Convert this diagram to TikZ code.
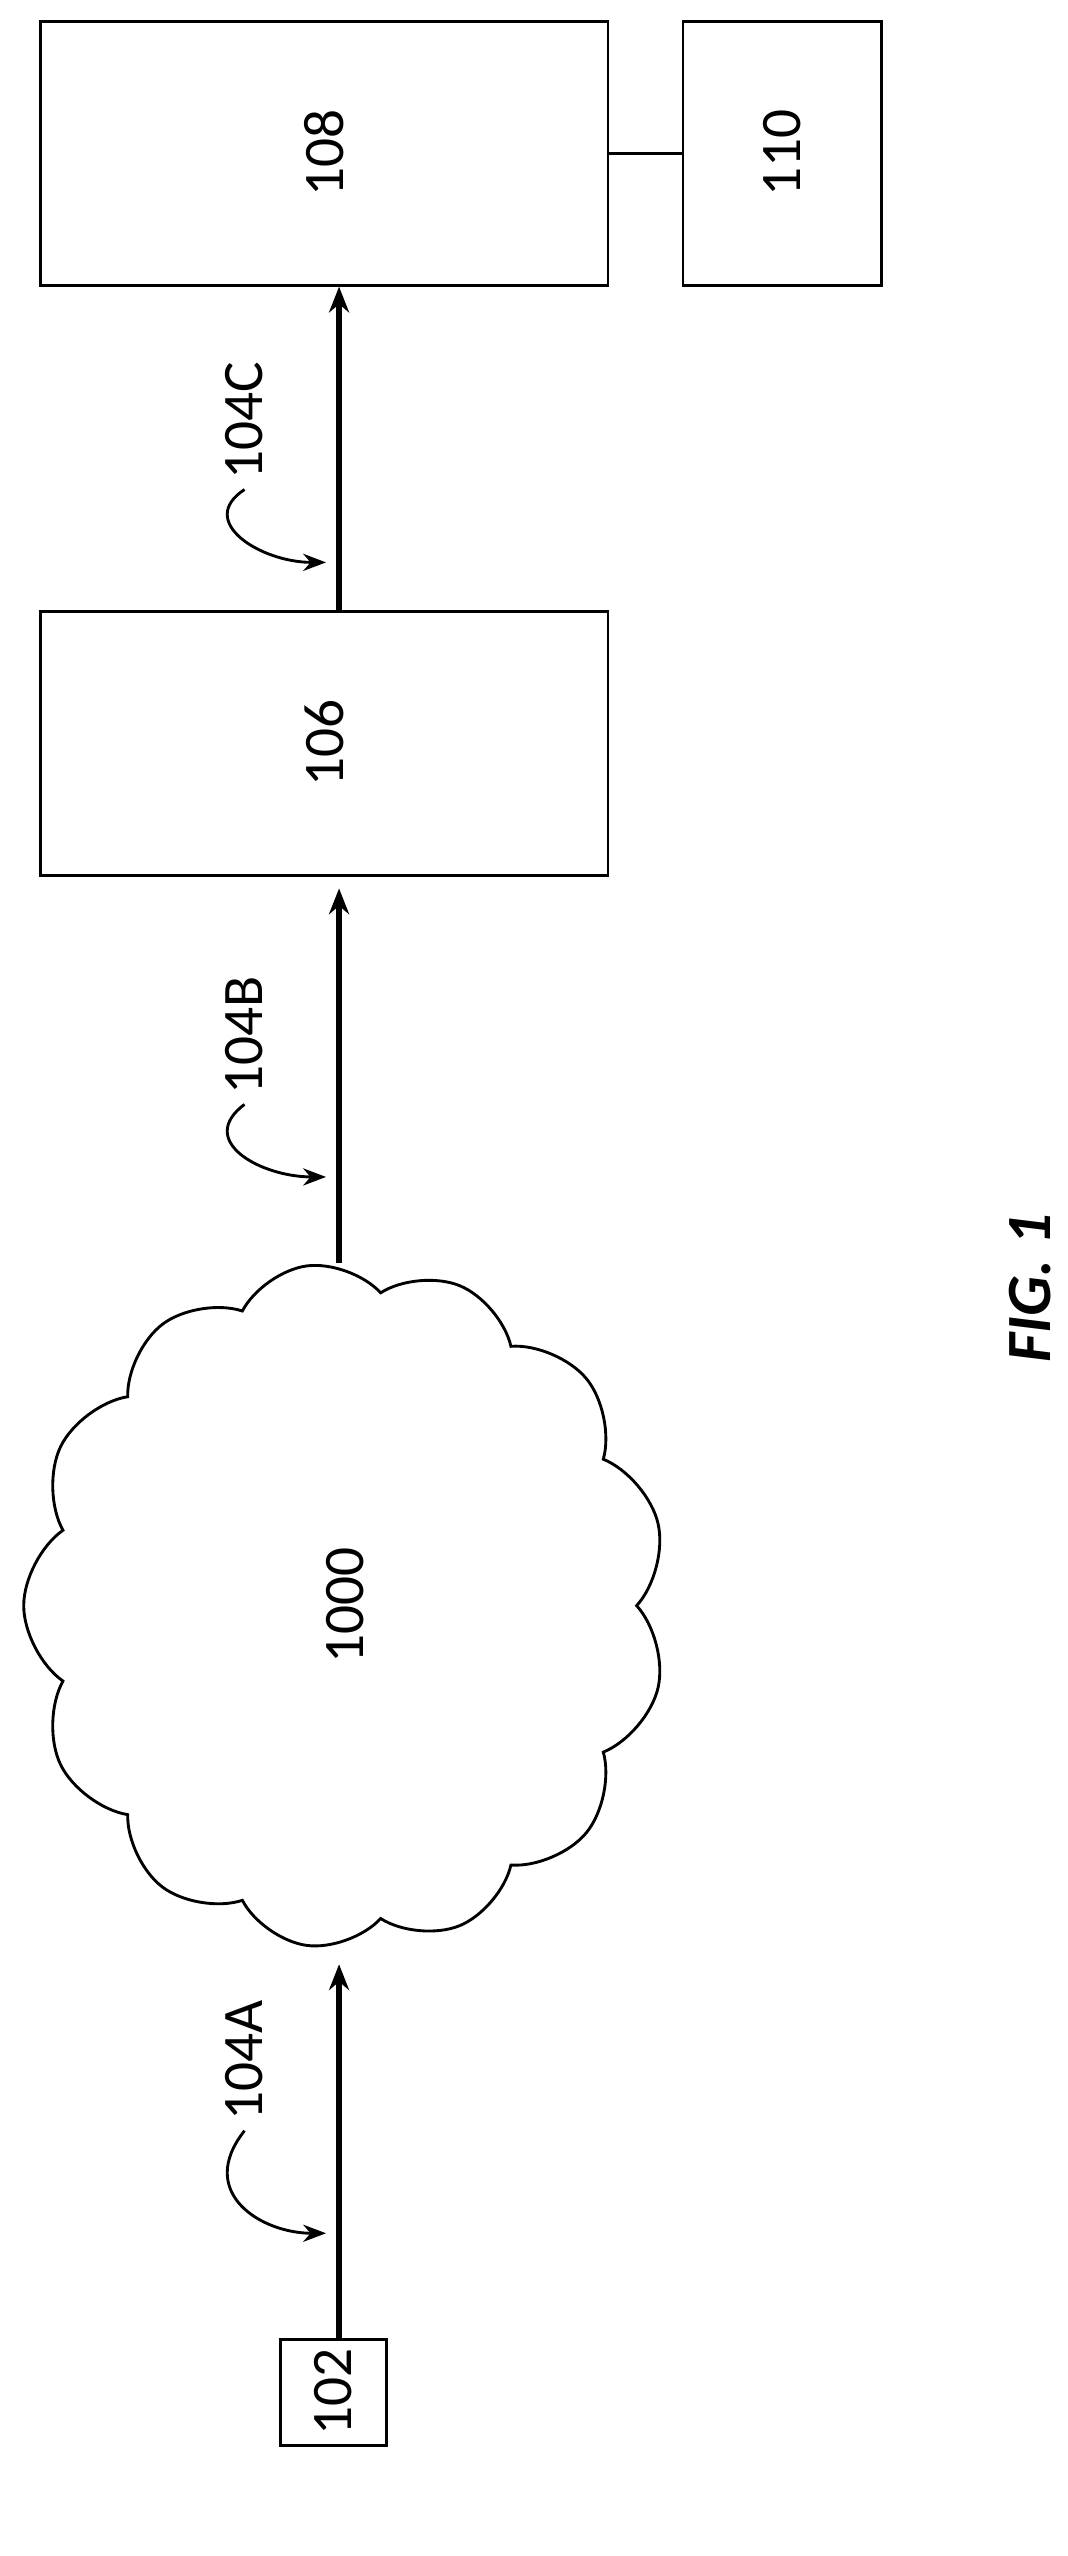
\documentclass[tikz,border=0pt]{standalone}
\usepackage{fontspec}
\setmainfont{Carlito}
\usetikzlibrary{arrows.meta,shapes.symbols}

\begin{document}
\begin{tikzpicture}[x=0.02cm,y=-0.02cm,
    box/.style={draw,line width=1pt,inner sep=0pt,font=\fontsize{20}{24}\selectfont},
    flow/.style={-{Stealth[length=9pt,width=7pt]},line width=1.8pt},
    tag/.style={font=\fontsize{20}{24}\selectfont,rotate=90},
    pointer/.style={-{Stealth[length=8pt,width=6pt]},line width=1pt}]
    \useasboundingbox (0,0) rectangle (655,1568);
    \node[box,minimum width=6.96cm,minimum height=3.24cm] (B108) at (199,94)  {\rotatebox{90}{108}};
    \node[box,minimum width=2.44cm,minimum height=3.24cm] (B110) at (480,94)  {\rotatebox{90}{110}};
    \node[box,minimum width=6.96cm,minimum height=3.24cm] (B106) at (199,456) {\rotatebox{90}{106}};
    \node[box,minimum width=1.3cm,minimum height=1.3cm]   (B102) at (204.5,1467.5) {\rotatebox{90}{102}};
    \node[box,cloud,cloud puffs=13,cloud puff arc=110,aspect=1,
          minimum width=8.4cm,minimum height=7.9cm,rotate=90] (C1000) at (212,985) {1000};
    % connectors
    \draw[line width=1pt] (B108.east) -- (B110.west);
    \draw[flow] (208,375 |- B106.north) -- (208,175 |- B108.south);
    \coordinate (T106) at (208,545);
    \coordinate (Ctop) at (208,775);
    \draw[flow] (Ctop) -- (T106);
    \coordinate (T1000) at (208,1205);
    \draw[flow] (208,1435 |- B102.north) -- (T1000);
    % reference labels
    \node[tag] (L104C) at (150,258)  {104C};
    \node[tag] (L104B) at (150,635)  {104B};
    \node[tag] (L104A) at (150,1264) {104A};
    \draw[pointer] (L104C.west) .. controls (120,320) and (160,345) .. (200,345);
    \draw[pointer] (L104B.west) .. controls (120,700) and (160,722) .. (200,722);
    \draw[pointer] (L104A.west) .. controls (120,1345) and (160,1370) .. (200,1370);
    \node[font=\fontsize{22}{26}\selectfont\bfseries\itshape,rotate=90] (Fig) at (632,790) {FIG. 1};
\end{tikzpicture}
\end{document}
